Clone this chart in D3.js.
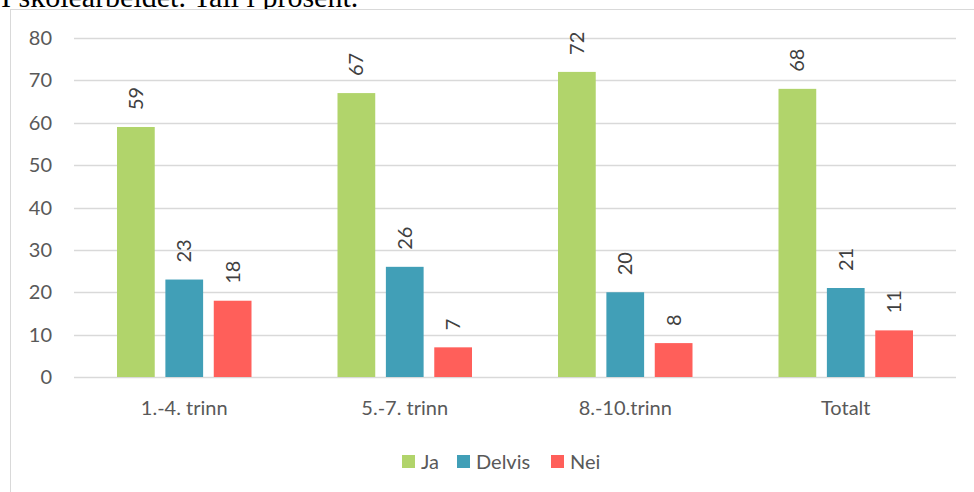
<!DOCTYPE html>
<html>
<head>
<meta charset="utf-8">
<script src="https://cdn.jsdelivr.net/npm/d3@7"></script>
<style>
  body { margin: 0; background: #fff; overflow: hidden; }
  svg { display: block; }
</style>
</head>
<body>
<div id="chart"></div>
<script>
const categories = ["1.-4. trinn", "5.-7. trinn", "8.-10.trinn", "Totalt"];
const seriesNames = ["Ja", "Delvis", "Nei"];
const ja = [59, 67, 72, 68];
const delvis = [23, 26, 20, 21];
const nei = [18, 7, 8, 11];
const yTicks = [0, 10, 20, 30, 40, 50, 60, 70, 80];
const colors = ["#b1d46b", "#419fb7", "#ff5f5a"];

const seriesValues = [ja, delvis, nei];
const data = categories.map((c, i) => ({
    category: c,
    values: seriesNames.map((s, j) => ({ series: s, value: seriesValues[j][i] }))
}));

const width = 974, height = 492;
const plot = { left: 74, right: 956, top: 38, bottom: 377 };
const font = "Lato, 'Open Sans', sans-serif";

const svg = d3.select("#chart")
    .append("svg")
    .attr("width", width)
    .attr("height", height);

// cut-off caption above the chart
svg.append("text")
    .attr("x", 1)
    .attr("y", 7)
    .style("font-family", "'Liberation Serif', 'Times New Roman', serif")
    .style("font-size", "30px")
    .attr("fill", "#000")
    .text("I skolearbeidet. Tall i prosent.");

// chart frame
svg.append("rect")
    .attr("x", 10.5)
    .attr("y", 9.5)
    .attr("width", 1000)
    .attr("height", 1000)
    .attr("fill", "#fff")
    .attr("stroke", "#d9d9d9")
    .attr("stroke-width", 1);

const x0 = d3.scaleBand()
    .domain(categories)
    .range([plot.left, plot.right]);

const x1 = d3.scaleBand()
    .domain(seriesNames)
    .range([43, x0.bandwidth() - 43])
    .paddingInner(0.22);

const y = d3.scaleLinear()
    .domain([0, 80])
    .range([plot.bottom, plot.top]);

const color = d3.scaleOrdinal().domain(seriesNames).range(colors);

// gridlines
svg.append("g")
    .selectAll("line")
    .data(yTicks)
    .enter()
    .append("line")
    .attr("x1", plot.left)
    .attr("x2", plot.right)
    .attr("y1", d => Math.round(y(d)) + 0.5)
    .attr("y2", d => Math.round(y(d)) + 0.5)
    .attr("stroke", "#d9d9d9")
    .attr("stroke-width", 1.5);

// y axis labels
svg.append("g")
    .selectAll("text")
    .data(yTicks)
    .enter()
    .append("text")
    .attr("x", 52)
    .attr("y", d => y(d))
    .attr("dy", "0.35em")
    .attr("text-anchor", "end")
    .style("font-family", font)
    .style("font-size", "20px")
    .attr("fill", "#595959")
    .text(d => d);

// bars
const groups = svg.append("g")
    .selectAll("g")
    .data(data)
    .enter()
    .append("g")
    .attr("transform", d => `translate(${x0(d.category)},0)`);

groups.selectAll("rect")
    .data(d => d.values)
    .enter()
    .append("rect")
    .attr("x", d => x1(d.series))
    .attr("y", d => y(d.value))
    .attr("width", x1.bandwidth())
    .attr("height", d => y(0) - y(d.value))
    .attr("fill", d => color(d.series));

// value labels, rotated
groups.selectAll("text")
    .data(d => d.values)
    .enter()
    .append("text")
    .attr("transform", d => `translate(${x1(d.series) + x1.bandwidth() / 2},${y(d.value) - 17}) rotate(-90)`)
    .attr("dy", "0.35em")
    .attr("text-anchor", "start")
    .style("font-family", font)
    .style("font-size", "20px")
    .attr("fill", "#404040")
    .text(d => d.value);

// category labels
svg.append("g")
    .selectAll("text")
    .data(categories)
    .enter()
    .append("text")
    .attr("x", d => x0(d) + x0.bandwidth() / 2)
    .attr("y", 408)
    .attr("dy", "0.35em")
    .attr("text-anchor", "middle")
    .style("font-family", font)
    .style("font-size", "20px")
    .attr("fill", "#595959")
    .text(d => d);

// legend
const legendX = [402, 457, 551];
const legend = svg.append("g")
    .selectAll("g")
    .data(seriesNames)
    .enter()
    .append("g")
    .attr("transform", (d, i) => `translate(${legendX[i]},462)`);

legend.append("rect")
    .attr("x", 0)
    .attr("y", -7)
    .attr("width", 13)
    .attr("height", 13)
    .attr("fill", d => color(d));

legend.append("text")
    .attr("x", 19)
    .attr("y", 0)
    .attr("dy", "0.35em")
    .style("font-family", font)
    .style("font-size", "20px")
    .attr("fill", "#595959")
    .text(d => d);
</script>
</body>
</html>
